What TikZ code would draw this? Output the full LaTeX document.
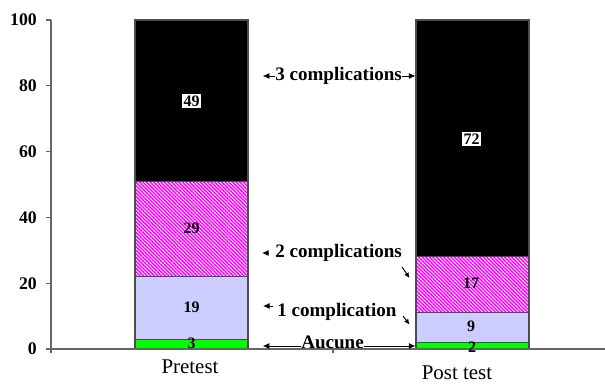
\documentclass[tikz,border=0pt]{standalone}
\usepackage{fontspec}
\setmainfont{Liberation Serif}
\usetikzlibrary{arrows.meta,patterns.meta}
\definecolor{lav}{HTML}{CCCCFF}
\definecolor{grn}{HTML}{00FF00}
\definecolor{mag}{HTML}{FF00FF}
\begin{document}
\begin{tikzpicture}[x=0.75pt,y=-0.75pt,
  axisline/.style={draw=gray!80!black, line width=0.8pt},
  barseg/.style={draw=black!70, line width=0.8pt},
  hatch/.style={pattern={Lines[angle=-45,distance=1.9pt,line width=1.1pt]}, pattern color=mag},
  ticklab/.style={font=\bfseries\fontsize{13.3}{15}\selectfont, anchor=east, inner sep=0pt},
  val/.style={font=\bfseries\fontsize{12}{14}\selectfont, inner sep=1.2pt},
  ann/.style={font=\bfseries\fontsize{14.3}{16}\selectfont, inner sep=0pt},
  catlab/.style={font=\fontsize{15.7}{18}\selectfont, inner sep=0pt, anchor=base},
  arr/.style={-{Latex[length=5pt,width=4.6pt]}, line width=0.7pt},
  sarr/.style={-{Latex[length=4pt,width=3.8pt]}, line width=0.7pt}
]
\useasboundingbox (0,0) rectangle (605,383);

% Pretest bar
\path[fill=grn, barseg] (135,349) rectangle (248,339.1);
\path[fill=lav, barseg] (135,339.1) rectangle (248,276.6);
\path[fill=white] (135,276.6) rectangle (248,181.2);
\path[hatch, barseg] (135,276.6) rectangle (248,181.2);
\path[fill=black, barseg] (135,181.2) rectangle (248,20);

% Post test bar
\path[fill=grn, barseg] (416,349) rectangle (529,342.4);
\path[fill=lav, barseg] (416,342.4) rectangle (529,312.8);
\path[fill=white] (416,312.8) rectangle (529,256.9);
\path[hatch, barseg] (416,312.8) rectangle (529,256.9);
\path[fill=black, barseg] (416,256.9) rectangle (529,20);

% axes
\draw[axisline] (51,20) -- (51,349) -- (605,349);
\foreach \v/\y in {0/349,20/283.2,40/217.4,60/151.6,80/85.8,100/20}{
  \draw[axisline] (46,\y) -- (51,\y);
  \node[ticklab] (t\v) at (37,\y) {\v};
}
\draw[axisline] (51,349) -- (51,353);
\draw[axisline] (333,349) -- (333,353);

% values
\node[val, fill=white] (v49) at (191.5,101) {49};
\node[val] (v29) at (191.5,228) {29};
\node[val] (v19) at (191.5,307) {19};
\node[val] (v3) at (191.5,343) {3};
\node[val, fill=white] (v72) at (471.7,139) {72};
\node[val] (v17) at (471,283) {17};
\node[val] (v9) at (471,326) {9};
\node[val] (v2) at (472,347) {2};

% category labels
\node[catlab] (pre) at (190,373.3) {Pretest};
\node[catlab] (post) at (457,379.5) {Post test};

% annotations
\node[ann, anchor=west] (c3) at (275,76) {3 complications};
\coordinate (c3l) at (262.7,76);
\coordinate (c3r) at (415.5,76);
\draw[arr] (c3.west) -- (c3l);
\draw[arr] (c3.east) -- (c3r);

\node[ann, anchor=west] (c2) at (275,253) {2 complications};
\coordinate (c2a) at (269,253);
\coordinate (c2l) at (262,253);
\draw[arr] (c2a) -- (c2l);
\coordinate (c2s) at (402,267);
\coordinate (c2e) at (409.5,278);
\draw[sarr] (c2s) -- (c2e);

\node[ann, anchor=west] (c1) at (277,311.5) {1 complication};
\coordinate (c1a) at (273,306);
\coordinate (c1l) at (263,306);
\draw[arr] (c1a) -- (c1l);
\coordinate (c1s) at (403,316);
\coordinate (c1e) at (409.5,324.5);
\draw[sarr] (c1s) -- (c1e);

\node[ann] (au) at (332.5,342) {Aucune};
\coordinate (aul) at (262.7,346);
\coordinate (aur) at (415.5,346);
\draw[arr] (au.west |- aul) -- (aul);
\draw[arr] (au.east |- aur) -- (aur);
\end{tikzpicture}
\end{document}
